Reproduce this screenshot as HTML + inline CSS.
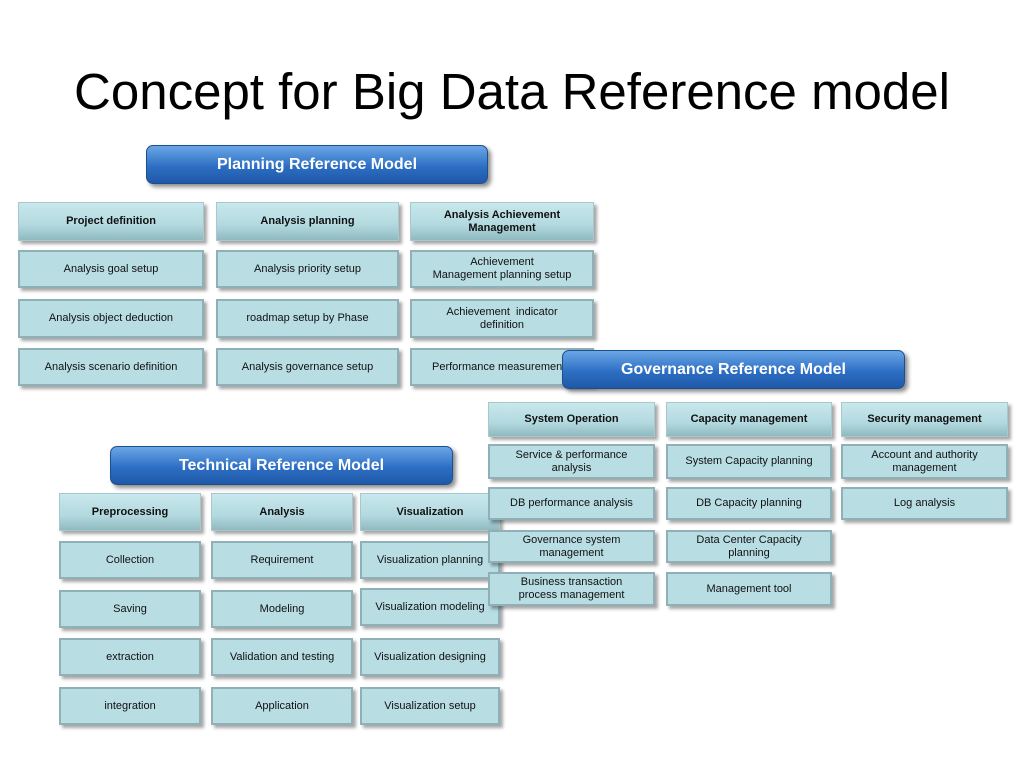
<!DOCTYPE html>
<html><head><meta charset="utf-8"><style>
body{margin:0;width:1024px;height:768px;background:#fff;position:relative;overflow:hidden;font-family:"Liberation Sans",sans-serif}
.t{position:absolute;left:0;width:1024px;top:62px;text-align:center;font-size:51px;color:#000}
.b{position:absolute;border-radius:7px;background:linear-gradient(#6aa6e6,#2d6fc4 55%,#1f58a8);border:1px solid #1d4f8f;box-shadow:3px 3px 4px rgba(0,0,0,.45);color:#fff;font-weight:bold;font-size:16px;display:flex;align-items:center;justify-content:center}
.x{position:absolute;box-sizing:border-box;background:#b8dde3;border:2px solid #8fb0b7;box-shadow:3px 3px 3px rgba(0,0,0,.35);display:flex;align-items:center;justify-content:center;text-align:center;font-size:11px;color:#111;line-height:13px}
.h{background:linear-gradient(#c8e8ec,#b2d9df 60%,#8fb9c0);border:1px solid #a8c8cd;font-weight:bold}
</style></head><body>
<div class="t">Concept for Big Data Reference model</div>
<div class="b" style="left:146px;top:145px;width:340px;height:37px">Planning Reference Model</div>
<div class="x h" style="left:18px;top:202px;width:186px;height:39px">Project definition</div>
<div class="x h" style="left:216px;top:202px;width:183px;height:39px">Analysis planning</div>
<div class="x h" style="left:410px;top:202px;width:184px;height:39px">Analysis Achievement<br>Management</div>
<div class="x" style="left:18px;top:250px;width:186px;height:38px">Analysis goal setup</div>
<div class="x" style="left:216px;top:250px;width:183px;height:38px">Analysis priority setup</div>
<div class="x" style="left:410px;top:250px;width:184px;height:38px">Achievement<br>Management planning setup</div>
<div class="x" style="left:18px;top:299px;width:186px;height:39px">Analysis object deduction</div>
<div class="x" style="left:216px;top:299px;width:183px;height:39px">roadmap setup by Phase</div>
<div class="x" style="left:410px;top:299px;width:184px;height:39px">Achievement &nbsp;indicator<br>definition</div>
<div class="x" style="left:18px;top:348px;width:186px;height:38px">Analysis scenario definition</div>
<div class="x" style="left:216px;top:348px;width:183px;height:38px">Analysis governance setup</div>
<div class="x" style="left:410px;top:348px;width:184px;height:38px;justify-content:flex-start;padding-left:20px">Performance measurement</div>

<div class="b" style="left:110px;top:446px;width:341px;height:37px">Technical Reference Model</div>
<div class="x h" style="left:59px;top:493px;width:142px;height:38px">Preprocessing</div>
<div class="x h" style="left:211px;top:493px;width:142px;height:38px">Analysis</div>
<div class="x h" style="left:360px;top:493px;width:140px;height:38px">Visualization</div>
<div class="x" style="left:59px;top:541px;width:142px;height:38px">Collection</div>
<div class="x" style="left:211px;top:541px;width:142px;height:38px">Requirement</div>
<div class="x" style="left:360px;top:541px;width:140px;height:38px">Visualization planning</div>
<div class="x" style="left:59px;top:590px;width:142px;height:38px">Saving</div>
<div class="x" style="left:211px;top:590px;width:142px;height:38px">Modeling</div>
<div class="x" style="left:360px;top:588px;width:140px;height:38px">Visualization modeling</div>
<div class="x" style="left:59px;top:638px;width:142px;height:38px">extraction</div>
<div class="x" style="left:211px;top:638px;width:142px;height:38px">Validation and testing</div>
<div class="x" style="left:360px;top:638px;width:140px;height:38px">Visualization designing</div>
<div class="x" style="left:59px;top:687px;width:142px;height:38px">integration</div>
<div class="x" style="left:211px;top:687px;width:142px;height:38px">Application</div>
<div class="x" style="left:360px;top:687px;width:140px;height:38px">Visualization setup</div>

<div class="b" style="left:562px;top:350px;width:341px;height:37px">Governance Reference Model</div>
<div class="x h" style="left:488px;top:402px;width:167px;height:35px">System Operation</div>
<div class="x h" style="left:666px;top:402px;width:166px;height:35px">Capacity management</div>
<div class="x h" style="left:841px;top:402px;width:167px;height:35px">Security management</div>
<div class="x" style="left:488px;top:444px;width:167px;height:35px">Service &amp; performance<br>analysis</div>
<div class="x" style="left:666px;top:444px;width:166px;height:35px">System Capacity planning</div>
<div class="x" style="left:841px;top:444px;width:167px;height:35px">Account and authority<br>management</div>
<div class="x" style="left:488px;top:487px;width:167px;height:33px">DB performance analysis</div>
<div class="x" style="left:666px;top:487px;width:166px;height:33px">DB Capacity planning</div>
<div class="x" style="left:841px;top:487px;width:167px;height:33px">Log analysis</div>
<div class="x" style="left:488px;top:530px;width:167px;height:33px">Governance system<br>management</div>
<div class="x" style="left:666px;top:530px;width:166px;height:33px">Data Center Capacity<br>planning</div>
<div class="x" style="left:488px;top:572px;width:167px;height:34px">Business transaction<br>process management</div>
<div class="x" style="left:666px;top:572px;width:166px;height:34px">Management tool</div>
</body></html>
